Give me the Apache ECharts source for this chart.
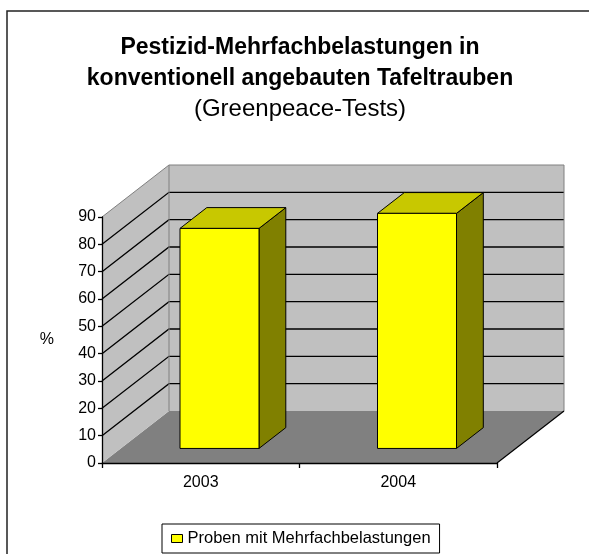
<!DOCTYPE html>
<html>
<head>
<meta charset="utf-8">
<script src="https://cdn.jsdelivr.net/npm/echarts@6/dist/echarts.min.js"></script>
<style>
  html, body { margin: 0; padding: 0; background: #fff; }
  #chart { width: 589px; height: 554px; }
</style>
</head>
<body>
<div id="chart"></div>
<script>
// ---- data ----
const CATEGORIES = ['2003', '2004'];
const VALUES = [80.5, 86];
const SERIES_NAME = 'Proben mit Mehrfachbelastungen';
const Y_TICKS = [0, 10, 20, 30, 40, 50, 60, 70, 80, 90];
const TITLE_LINES = ['Pestizid-Mehrfachbelastungen in', 'konventionell angebauten Tafeltrauben'];
const SUBTITLE = '(Greenpeace-Tests)';
const Y_NAME = '%';

// ---- style / 3D look ----
const FONT = "'Liberation Sans', Arial, sans-serif";
const DEPTH_DX = 67, DEPTH_DY = 52;     // oblique depth of the floor
const BAR_FRONT = 0.28, BAR_DEPTH = 0.4, BAR_WIDTH = 0.4;
const WALL = '#c0c0c0', FLOOR = '#808080', EDGE = '#808080';
const FRONT = '#ffff00', TOP = '#c8c800', SIDE = '#808000';

const chart = echarts.init(document.getElementById('chart'), null, { renderer: 'canvas' });

function renderWalls(params, api) {
  const cs = params.coordSys;
  const x0 = cs.x, x1 = cs.x + cs.width;
  const yMin = Y_TICKS[0], yMax = Y_TICKS[Y_TICKS.length - 1];
  const yb = api.coord([0, yMin])[1];
  const yt = api.coord([0, yMax])[1];
  const dx = DEPTH_DX, dy = DEPTH_DY;
  const children = [];
  // floor
  children.push({ type: 'polygon', shape: { points: [[x0, yb], [x1, yb], [x1 + dx, yb - dy], [x0 + dx, yb - dy]] },
    style: { fill: FLOOR, stroke: null } });
  // side wall
  children.push({ type: 'polygon', shape: { points: [[x0, yb], [x0 + dx, yb - dy], [x0 + dx, yt - dy], [x0, yt]] },
    style: { fill: WALL, stroke: null } });
  // back wall
  children.push({ type: 'polygon', shape: { points: [[x0 + dx, yb - dy], [x1 + dx, yb - dy], [x1 + dx, yt - dy], [x0 + dx, yt - dy]] },
    style: { fill: WALL, stroke: null } });
  // gridlines
  Y_TICKS.forEach(v => {
    if (v === yMin || v === yMax) return;
    const y = api.coord([0, v])[1];
    children.push({ type: 'polyline', shape: { points: [[x0, y], [x0 + dx, y - dy], [x1 + dx, y - dy]] },
      style: { stroke: '#000', lineWidth: 1.3, fill: null } });
  });
  // wall edges
  children.push({ type: 'polyline', shape: { points: [[x0, yt], [x0 + dx, yt - dy], [x1 + dx, yt - dy], [x1 + dx, yb - dy]] },
    style: { stroke: EDGE, lineWidth: 1, fill: null } });
  children.push({ type: 'line', shape: { x1: x0 + dx, y1: yt - dy, x2: x0 + dx, y2: yb - dy },
    style: { stroke: EDGE, lineWidth: 1 } });
  // floor right edge
  children.push({ type: 'line', shape: { x1: x1, y1: yb, x2: x1 + dx, y2: yb - dy },
    style: { stroke: '#000', lineWidth: 1.2 } });
  return { type: 'group', children };
}

function renderBar(params, api) {
  const i = api.value(0), v = api.value(1);
  const base = api.coord([i, 0]);
  const top = api.coord([i, v]);
  const band = api.size([1, 0])[0];
  const w = band * BAR_WIDTH;
  const fdx = DEPTH_DX * BAR_FRONT, fdy = DEPTH_DY * BAR_FRONT;
  const ddx = DEPTH_DX * BAR_DEPTH, ddy = DEPTH_DY * BAR_DEPTH;
  const xl = base[0] - w / 2 + fdx, xr = xl + w;
  const yb = base[1] - fdy, yt = top[1] - fdy;
  const st = (fill) => ({ fill, stroke: '#000', lineWidth: 1, lineJoin: 'round' });
  return {
    type: 'group',
    children: [
      { type: 'polygon', shape: { points: [[xr, yt], [xr, yb], [xr + ddx, yb - ddy], [xr + ddx, yt - ddy]] }, style: st(SIDE) },
      { type: 'polygon', shape: { points: [[xl, yt], [xr, yt], [xr + ddx, yt - ddy], [xl + ddx, yt - ddy]] }, style: st(TOP) },
      { type: 'rect', shape: { x: xl, y: yt, width: w, height: yb - yt }, style: st(FRONT) }
    ]
  };
}

const option = {
  backgroundColor: '#fff',
  animation: false,
  title: {
    text: TITLE_LINES.join('\n'),
    subtext: SUBTITLE,
    left: 300,
    top: 32,
    textAlign: 'center',
    padding: 0,
    itemGap: 0,
    textStyle: { fontFamily: FONT, fontSize: 23, fontWeight: 'bold', color: '#000', lineHeight: 31 },
    subtextStyle: { fontFamily: FONT, fontSize: 24, color: '#000', lineHeight: 30 }
  },
  legend: {
    left: 162,
    top: 524,
    padding: [6, 9, 6, 9],
    borderColor: '#000',
    borderWidth: 1,
    itemWidth: 11,
    itemHeight: 8,
    itemGap: 5,
    selectedMode: false,
    textStyle: { fontFamily: FONT, fontSize: 16.5, color: '#000' },
    data: [{ name: SERIES_NAME, icon: 'rect', itemStyle: { color: FRONT, borderColor: '#000', borderWidth: 1 } }]
  },
  grid: { left: 102, right: 92, top: 217, bottom: 91, containLabel: false },
  xAxis: {
    type: 'category',
    data: CATEGORIES,
    z: 10,
    axisLine: { show: true, lineStyle: { color: '#000', width: 1.3 } },
    axisTick: { show: true, length: 5, lineStyle: { color: '#000', width: 1.3 } },
    axisLabel: { fontFamily: FONT, fontSize: 16, color: '#000', margin: 12 },
    splitLine: { show: false }
  },
  yAxis: {
    type: 'value',
    min: Y_TICKS[0],
    max: Y_TICKS[Y_TICKS.length - 1],
    interval: Y_TICKS[1] - Y_TICKS[0],
    z: 10,
    name: Y_NAME,
    nameLocation: 'middle',
    nameRotate: 0,
    nameGap: 48,
    nameTextStyle: { fontFamily: FONT, fontSize: 16, color: '#000' },
    axisLine: { show: true, lineStyle: { color: '#000', width: 1.3 } },
    axisTick: { show: true, length: 4, lineStyle: { color: '#000', width: 1.3 } },
    axisLabel: { fontFamily: FONT, fontSize: 16, color: '#000', margin: 6 },
    splitLine: { show: false }
  },
  graphic: [
    { type: 'rect', z: 100, silent: true, shape: { x: 7, y: 11, width: 700, height: 700 },
      style: { fill: null, stroke: '#222', lineWidth: 1.5 } }
  ],
  series: [
    { type: 'custom', name: 'walls', silent: true, renderItem: renderWalls, data: [[0, 0]], z: 1, clip: false },
    { type: 'custom', name: SERIES_NAME, renderItem: renderBar, z: 2, clip: false,
      itemStyle: { color: FRONT },
      data: VALUES.map((v, i) => [i, v]) }
  ]
};
chart.setOption(option);
</script>
</body>
</html>
